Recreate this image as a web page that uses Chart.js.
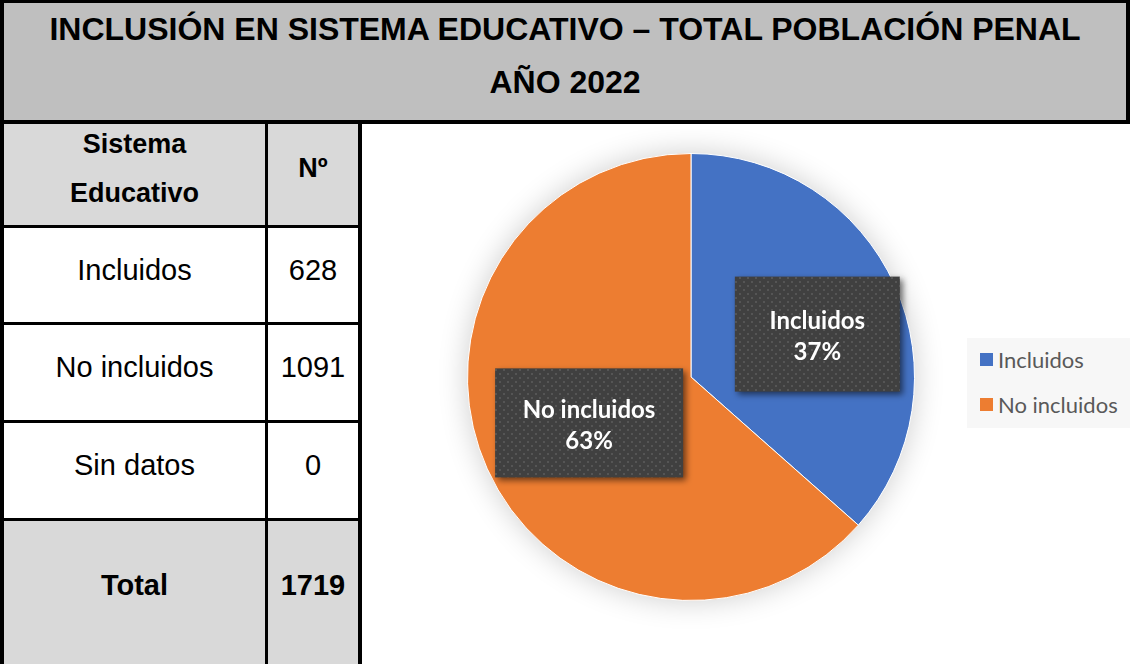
<!DOCTYPE html>
<html lang="es">
<head>
<meta charset="UTF-8">
<title>Inclusión en sistema educativo</title>
<script src="https://cdn.jsdelivr.net/npm/chart.js@4/dist/chart.umd.min.js"></script>
<style>
    body { margin: 0; background: #fff; font-family: "Liberation Sans", Arial, sans-serif; }
    #page { position: relative; width: 1130px; height: 664px; overflow: hidden; }
    .blk { position: absolute; background: #000; }
    #title { position: absolute; left: 4px; top: 3px; width: 1122px; height: 117px; background: #bfbfbf;
             font-weight: bold; font-size: 32px; text-align: center; line-height: 53px; padding-top: 0px; box-sizing: border-box; }
    .cell { position: absolute; display: flex; align-items: center; justify-content: center; text-align: center;
            font-size: 29px; padding-bottom: 10px; box-sizing: border-box; }
    .gray { background: #d9d9d9; }
    .bold { font-weight: bold; }
    #chartBox { position: absolute; left: 362px; top: 124px; width: 768px; height: 540px; }
    #legend { position: absolute; left: 967px; top: 338px; width: 163px; height: 90px; background: #f7f7f7;
              font-family: Lato, "Open Sans", sans-serif; font-size: 22px; color: #595959; }
    .lg { position: absolute; left: 13px; display: flex; align-items: center; }
    .lg span { display: inline-block; width: 13px; height: 13px; margin-right: 5px; }
</style>
</head>
<body>
<div id="page">
    <div class="blk" style="left:0;top:0;width:1130px;height:3px"></div>
    <div class="blk" style="left:0;top:0;width:4px;height:664px"></div>
    <div class="blk" style="left:1126px;top:0;width:4px;height:124px"></div>
    <div class="blk" style="left:0;top:120px;width:1130px;height:4px"></div>
    <div id="title">INCLUSIÓN EN SISTEMA EDUCATIVO – TOTAL POBLACIÓN PENAL<br>AÑO 2022</div>
    <div id="table"></div>
    <div id="chartBox"><canvas id="pie"></canvas></div>
    <div id="legend"></div>
</div>

<script>
    const tableLabels = ['Incluidos', 'No incluidos', 'Sin datos'];
    const tableValues = [628, 1091, 0];
    const totalValue = 1719;

    const categories = ['Incluidos', 'No incluidos'];
    const values = [628, 1091];
    const colors = ['#4472c4', '#ed7d31'];

    // table on the left
    const table = document.getElementById('table');
    const colX = [4, 268], colW = [261, 90];
    const rowTops = [124, 228, 325, 423, 521];
    const rowHs = [101, 94, 95, 95, 143];
    const rows = [['Sistema<br>Educativo', 'Nº']]
        .concat(tableLabels.map((l, i) => [l, String(tableValues[i])]))
        .concat([['Total', String(totalValue)]]);
    rows.forEach((r, ri) => {
        r.forEach((txt, ci) => {
            const d = document.createElement('div');
            d.className = 'cell' + ((ri === 0 || ri === rows.length - 1) ? ' gray bold' : '');
            d.style.left = colX[ci] + 'px';
            d.style.top = rowTops[ri] + 'px';
            d.style.width = colW[ci] + 'px';
            d.style.height = rowHs[ri] + 'px';
            if (ri === 0) { d.style.fontSize = '27px'; d.style.lineHeight = '49px'; d.style.paddingBottom = '12px'; }
            if (ri === rows.length - 1) d.style.paddingBottom = '14px';
            d.innerHTML = txt;
            table.appendChild(d);
        });
        if (ri > 0) {
            const line = document.createElement('div');
            line.className = 'blk';
            line.style.cssText = 'left:0;width:362px;height:3px;top:' + (rowTops[ri] - 3) + 'px';
            table.appendChild(line);
        }
    });
    [[265, 3], [358, 4]].forEach(([x, w]) => {
        const line = document.createElement('div');
        line.className = 'blk';
        line.style.cssText = 'top:124px;height:540px;left:' + x + 'px;width:' + w + 'px';
        table.appendChild(line);
    });

    // legend
    const legend = document.getElementById('legend');
    categories.forEach((c, i) => {
        const it = document.createElement('div');
        it.className = 'lg';
        it.style.top = (8 + i * 45) + 'px';
        it.innerHTML = '<span style="background:' + colors[i] + '"></span>' + c;
        legend.appendChild(it);
    });

    // dotted fill for the data label boxes
    function dotPattern(ctx) {
        const p = document.createElement('canvas');
        p.width = 8; p.height = 8;
        const g = p.getContext('2d');
        g.fillStyle = '#404040';
        g.fillRect(0, 0, 8, 8);
        g.fillStyle = '#555555';
        g.fillRect(1, 1, 2, 2);
        g.fillRect(5, 5, 2, 2);
        return ctx.createPattern(p, 'repeat');
    }

    const pieShadow = {
        id: 'pieShadow',
        beforeDatasetsDraw(chart) {
            const arc = chart.getDatasetMeta(0).data[0];
            const ctx = chart.ctx;
            ctx.save();
            ctx.shadowColor = 'rgba(0,0,0,0.2)';
            ctx.shadowBlur = 30;
            ctx.fillStyle = '#fff';
            ctx.beginPath();
            ctx.arc(arc.x, arc.y, arc.outerRadius, 0, Math.PI * 2);
            ctx.fill();
            ctx.restore();
        }
    };

    const labelFactor = [0.62, 0.5];
    const labelNudge = [14, 0];
    const boxSize = [[165, 115], [188, 109]];
    const boxLabels = {
        id: 'boxLabels',
        afterDatasetsDraw(chart) {
            const ctx = chart.ctx;
            const meta = chart.getDatasetMeta(0);
            const total = values.reduce((a, b) => a + b, 0);
            meta.data.forEach((arc, i) => {
                const mid = (arc.startAngle + arc.endAngle) / 2;
                const r = arc.outerRadius * labelFactor[i];
                const cx = arc.x + Math.cos(mid) * r;
                const cy = arc.y + Math.sin(mid) * r + labelNudge[i];
                const [w, h] = boxSize[i];
                ctx.save();
                ctx.shadowColor = 'rgba(0,0,0,0.55)';
                ctx.shadowBlur = 6;
                ctx.shadowOffsetX = 3;
                ctx.shadowOffsetY = 3;
                ctx.fillStyle = dotPattern(ctx);
                ctx.fillRect(cx - w / 2, cy - h / 2, w, h);
                ctx.restore();
                ctx.save();
                ctx.fillStyle = '#fff';
                ctx.font = 'bold 24px Lato, "Open Sans", sans-serif';
                ctx.textAlign = 'center';
                ctx.textBaseline = 'middle';
                ctx.fillText(categories[i], cx, cy - 13);
                ctx.fillText(Math.round(values[i] / total * 100) + '%', cx, cy + 18);
                ctx.restore();
            });
        }
    };

    new Chart(document.getElementById('pie'), {
        type: 'pie',
        data: {
            labels: categories,
            datasets: [{
                data: values,
                backgroundColor: colors,
                borderColor: '#fff',
                borderWidth: 1
            }]
        },
        options: {
            responsive: true,
            maintainAspectRatio: false,
            animation: false,
            layout: { padding: { left: 105, right: 215, top: 29, bottom: 63 } },
            plugins: { legend: { display: false }, tooltip: { enabled: false } }
        },
        plugins: [pieShadow, boxLabels]
    });
</script>
</body>
</html>
